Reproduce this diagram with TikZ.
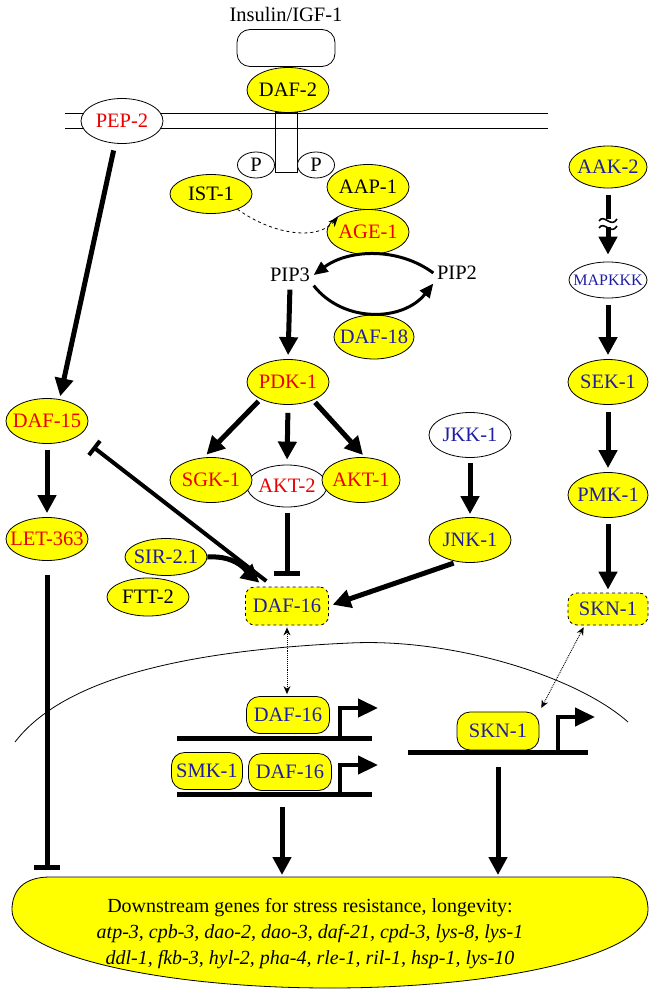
\documentclass[tikz,border=0pt]{standalone}
\usepackage{fontspec}
\setmainfont{Liberation Serif}
\usetikzlibrary{shapes.geometric, arrows.meta, positioning, calc}

\definecolor{wormyellow}{RGB}{255,255,0}
\definecolor{wormred}{RGB}{235,0,0}
\definecolor{wormblue}{RGB}{30,30,165}

\tikzset{
  prot/.style={ellipse, draw, fill=wormyellow, minimum width=82pt, minimum height=45pt, inner xsep=-9pt, inner ysep=0pt},
  protw/.style={prot, fill=white},
  tfbox/.style={draw, fill=wormyellow, rounded corners=13pt, minimum width=83pt, minimum height=37pt, inner sep=0pt},
  cytbox/.style={tfbox, dashed, rounded corners=9pt},
  act/.style={line width=5pt, -{Triangle[length=18pt,width=18pt]}},
  inh/.style={line width=5pt, -{Bar[width=26pt]}},
  cycarr/.style={line width=3pt, -{Triangle[length=14pt,width=12pt]}},
  prom/.style={line width=4.5pt, -{Triangle[length=20pt,width=18pt]}},
  dna/.style={line width=5pt},
  shuttle/.style={densely dotted, line width=0.9pt, {Stealth[length=8pt,width=7pt]}-{Stealth[length=8pt,width=7pt]}},
}

\begin{document}
\begin{tikzpicture}[x=1pt, y=-1pt, line width=0.8pt, font=\fontsize{20.5}{24}\selectfont]
\useasboundingbox (0,0) rectangle (660,992);

% membrane and receptor
\draw (65,113) -- (548,113);
\draw (65,128) -- (548,128);
\draw (275,112) rectangle (297,172);
\node (insulin) at (286,14) {Insulin/IGF-1};
\node[draw, rounded corners=13pt, minimum width=98pt, minimum height=37pt] (ligand) at (286,48) {};
\node[prot] (daf2) at (288,90) {DAF-2};
\node[ellipse, draw, fill=white, minimum width=37pt, minimum height=26pt, inner sep=0pt] (pl) at (256,165) {P};
\node[ellipse, draw, fill=white, minimum width=37pt, minimum height=26pt, inner sep=0pt] (pr) at (316,165) {P};
\node[protw, text=wormred] (pep2) at (122,121) {PEP-2};

% insulin pathway
\node[prot, minimum height=39pt] (ist1) at (211,194) {IST-1};
\node[prot] (aap1) at (368,187) {AAP-1};
\node[prot, text=wormred] (age1) at (368,232) {AGE-1};
\node (pip3) at (290,275) {PIP3};
\node (pip2) at (457,273) {PIP2};
\node[prot, text=wormblue, minimum width=80pt, minimum height=44pt] (daf18) at (374,337) {DAF-18};
\node[prot, text=wormred] (pdk1) at (288,382) {PDK-1};
\node[protw, text=wormred, minimum width=80pt, minimum height=42pt] (akt2) at (287,486) {AKT-2};
\node[prot, text=wormred] (sgk1) at (211,480) {SGK-1};
\node[prot, text=wormred, minimum width=78pt] (akt1) at (361,480) {AKT-1};
\node[cytbox, text=wormblue, minimum height=38pt] (daf16c) at (287,606) {DAF-16};
\node[prot, text=wormblue, minimum height=37pt] (sir21) at (166,557) {SIR-2.1};
\node[prot, minimum height=38pt] (ftt2) at (148,597) {FTT-2};
\node[prot, text=wormred] (daf15) at (47,421) {DAF-15};
\node[prot, text=wormred, minimum height=43pt] (let363) at (47,539) {LET-363};

% stress pathways
\node[prot, text=wormblue, minimum width=78pt, minimum height=42pt] (aak2) at (608,167) {AAK-2};
\node[protw, text=wormblue, minimum width=78pt, minimum height=36pt, font=\fontsize{16}{19}\selectfont] (mapkkk) at (608,280) {MAPKKK};
\node[prot, text=wormblue, minimum width=80pt] (sek1) at (608,382) {SEK-1};
\node[prot, text=wormblue, minimum width=80pt] (pmk1) at (608,495) {PMK-1};
\node[cytbox, text=wormblue, minimum width=80pt, minimum height=32pt] (skn1c) at (608,609) {SKN-1};
\node[protw, text=wormblue] (jkk1) at (470,435) {JKK-1};
\node[prot, text=wormblue] (jnk1) at (470,540) {JNK-1};

% nucleus
\draw (15,742) .. controls (55,690) and (150,652) .. (350,643) .. controls (450,638) and (575,675) .. (628,722);
\node[tfbox, text=wormblue] (daf16n) at (288,715) {DAF-16};
\node[tfbox, text=wormblue, minimum width=71pt] (smk1) at (207,771) {SMK-1};
\node[tfbox, text=wormblue] (daf16m) at (290,772) {DAF-16};
\node[tfbox, text=wormblue, minimum width=82pt, minimum height=38pt] (skn1n) at (498,731) {SKN-1};
\coordinate (dna1) at (340,738);
\coordinate (dna2) at (282,794);
\coordinate (dna3) at (498,752);
\draw[dna] (177,738) -- (372,738);
\draw[dna] (177,794) -- (372,794);
\draw[dna] (408,752) -- (588,752);
\draw[prom] (dna1) -- (340,708) -- (378,708);
\draw[prom] (340,794) -- (340,765) -- (378,765);
\draw[prom] (558,752) -- (558,717) -- (595,717);

% downstream genes
\draw[fill=wormyellow] (50,877) -- (610,877) .. controls (636,877) and (648,890) .. (648,910) .. controls (648,955) and (500,988) .. (330,988) .. controls (160,988) and (12,955) .. (12,910) .. controls (12,890) and (24,877) .. (50,877) -- cycle;
\coordinate (downtop) at (330,877);
\node[align=center, font=\fontsize{20}{26}\selectfont] (down) at (310,934) {Downstream genes for stress resistance, longevity:\\
  \textit{atp-3, cpb-3, dao-2, dao-3, daf-21, cpd-3, lys-8, lys-1}\\
  \textit{ddl-1, fkb-3, hyl-2, pha-4, rle-1, ril-1, hsp-1, lys-10}};

% connectors
\draw[dashed, line width=0.8pt, -{Stealth[length=10pt,width=8pt]}, shorten >=2pt] (ist1.-30) .. controls (275,236) and (318,240) .. (age1.150);
\draw[cycarr] (pip2.west) .. controls +(-35,-26) and +(35,-26) .. (pip3.east);
\draw[cycarr] (pip3.south east) .. controls +(30,38) and +(-30,38) .. (pip2.south west);
\draw[act, shorten <=4pt, shorten >=4pt] (pip3.south) -- (pdk1.north);
\draw[act, shorten <=3pt, shorten >=4pt] (pdk1.212) -- (sgk1.108);
\draw[act, shorten <=8pt, shorten >=5pt] (pdk1.south) -- (akt2.north);
\draw[act, shorten <=3pt, shorten >=3pt] (pdk1.324) -- (akt1.80);
\draw[inh, shorten <=6pt, shorten >=11pt] (akt2.south) -- (daf16c.north);
\draw[line width=4pt, -{Bar[width=18pt]}, shorten <=9pt, shorten >=18pt] (daf16c.125) -- (daf15.335);
\draw[act, shorten >=6pt] (sir21.east) .. controls +(30,-2) and +(-16,-14) .. (daf16c.140);
\draw[act, shorten <=7pt, shorten >=3pt] (pep2.253) -- (daf15.60);
\draw[act, shorten <=6pt, shorten >=4pt] (daf15.south) -- (let363.north);
\draw[inh, shorten <=14pt, shorten >=7pt] (let363.south) -- (let363.south |- downtop);
\draw[act, shorten <=5pt, shorten >=3pt] (jkk1.south) -- (jnk1.north);
\draw[act, shorten <=4pt, shorten >=4pt] (jnk1.240) -- (daf16c.east);
\draw[act, shorten <=7pt, shorten >=7pt] (aak2.south) -- (mapkkk.north);
\fill[white] (598,219) rectangle (618,227);
\draw[line width=1.6pt] (599,221) .. controls (604,213) and (611,229) .. (617,219);
\draw[line width=1.6pt] (599,228) .. controls (604,220) and (611,236) .. (617,226);
\draw[act, shorten <=7pt, shorten >=4pt] (mapkkk.south) -- (sek1.north);
\draw[act, shorten <=7pt, shorten >=4pt] (sek1.south) -- (pmk1.north);
\draw[act, shorten <=6pt, shorten >=3pt] (pmk1.south) -- (skn1c.north);
\draw[shuttle, shorten <=2pt, shorten >=2pt] (daf16c.south) -- (daf16c.south |- daf16n.north);
\draw[shuttle, shorten <=2pt, shorten >=4pt] (skn1c.215) -- (skn1n.north east);
\draw[act, shorten <=13pt, shorten >=2pt] (dna2) -- (dna2 |- downtop);
\draw[act, shorten <=15pt, shorten >=2pt] (dna3) -- (dna3 |- downtop);
\end{tikzpicture}
\end{document}
